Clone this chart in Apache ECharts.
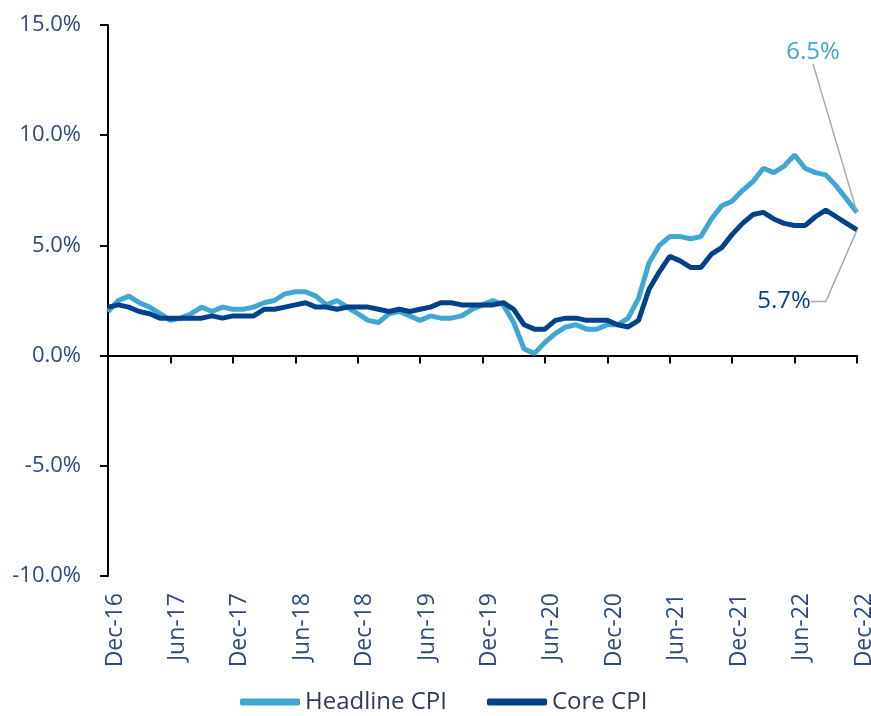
<!DOCTYPE html>
<html>
<head>
<meta charset="utf-8">
<script src="https://cdn.jsdelivr.net/npm/echarts@6/dist/echarts.min.js"></script>
<style>
  html, body { margin: 0; padding: 0; background: #fff; }
  #chart { width: 871px; height: 716px; }
</style>
</head>
<body>
<div id="chart"></div>
<script>
// months, Dec-16 .. Dec-22
const months = [
  "Dec-16",
  "Jan-17", "Feb-17", "Mar-17", "Apr-17", "May-17", "Jun-17", "Jul-17", "Aug-17", "Sep-17", "Oct-17", "Nov-17", "Dec-17",
  "Jan-18", "Feb-18", "Mar-18", "Apr-18", "May-18", "Jun-18", "Jul-18", "Aug-18", "Sep-18", "Oct-18", "Nov-18", "Dec-18",
  "Jan-19", "Feb-19", "Mar-19", "Apr-19", "May-19", "Jun-19", "Jul-19", "Aug-19", "Sep-19", "Oct-19", "Nov-19", "Dec-19",
  "Jan-20", "Feb-20", "Mar-20", "Apr-20", "May-20", "Jun-20", "Jul-20", "Aug-20", "Sep-20", "Oct-20", "Nov-20", "Dec-20",
  "Jan-21", "Feb-21", "Mar-21", "Apr-21", "May-21", "Jun-21", "Jul-21", "Aug-21", "Sep-21", "Oct-21", "Nov-21", "Dec-21",
  "Jan-22", "Feb-22", "Mar-22", "Apr-22", "May-22", "Jun-22", "Jul-22", "Aug-22", "Sep-22", "Oct-22", "Nov-22", "Dec-22"
];

// year-on-year, %
const headlineCpi = [
  2.0,
  2.5, 2.7, 2.4, 2.2, 1.9, 1.6, 1.7, 1.9, 2.2, 2.0, 2.2, 2.1,
  2.1, 2.2, 2.4, 2.5, 2.8, 2.9, 2.9, 2.7, 2.3, 2.5, 2.2, 1.9,
  1.6, 1.5, 1.9, 2.0, 1.8, 1.6, 1.8, 1.7, 1.7, 1.8, 2.1, 2.3,
  2.5, 2.3, 1.5, 0.3, 0.1, 0.6, 1.0, 1.3, 1.4, 1.2, 1.2, 1.4,
  1.4, 1.7, 2.6, 4.2, 5.0, 5.4, 5.4, 5.3, 5.4, 6.2, 6.8, 7.0,
  7.5, 7.9, 8.5, 8.3, 8.6, 9.1, 8.5, 8.3, 8.2, 7.7, 7.1, 6.5
];

const coreCpi = [
  2.2,
  2.3, 2.2, 2.0, 1.9, 1.7, 1.7, 1.7, 1.7, 1.7, 1.8, 1.7, 1.8,
  1.8, 1.8, 2.1, 2.1, 2.2, 2.3, 2.4, 2.2, 2.2, 2.1, 2.2, 2.2,
  2.2, 2.1, 2.0, 2.1, 2.0, 2.1, 2.2, 2.4, 2.4, 2.3, 2.3, 2.3,
  2.3, 2.4, 2.1, 1.4, 1.2, 1.2, 1.6, 1.7, 1.7, 1.6, 1.6, 1.6,
  1.4, 1.3, 1.6, 3.0, 3.8, 4.5, 4.3, 4.0, 4.0, 4.6, 4.9, 5.5,
  6.0, 6.4, 6.5, 6.2, 6.0, 5.9, 5.9, 6.3, 6.6, 6.3, 6.0, 5.7
];

const yTicks = { min: -10, max: 15, step: 5 };

const HEADLINE_COLOR = "#40a6d2";
const CORE_COLOR = "#03418a";
const TEXT_COLOR = "#2e4a7c";
const FONT = "'Open Sans', 'Noto Sans', sans-serif";

// only the last point carries a label
const withEndLabel = (values, labelOpts) =>
  values.map((v, i) =>
    i === values.length - 1 ? { value: v, label: { show: true, ...labelOpts } } : v
  );

const chart = echarts.init(document.getElementById("chart"), null, { renderer: "canvas" });

const option = {
  animation: false,
  textStyle: { fontFamily: FONT },
  grid: {
    left: 108,
    right: 14,
    top: 25,
    bottom: 140,
    containLabel: false,
    outerBoundsMode: "none", // keep the plot fixed, labels may touch the edge
  },
  legend: {
    top: 690,
    left: 240,
    padding: 0,
    icon: "roundRect",
    itemWidth: 60,
    itemHeight: 7,
    itemGap: 40,
    textStyle: { fontSize: 24, color: "#2f3b55", fontFamily: FONT },
    data: ["Headline CPI", "Core CPI"],
  },
  xAxis: [
    {
      // axis line sits on 0%
      type: "category",
      data: months,
      boundaryGap: false,
      position: "bottom",
      axisLine: { onZero: true, lineStyle: { color: "#000", width: 2 } },
      axisTick: { show: true, interval: 5, length: 8, lineStyle: { color: "#000", width: 2 } },
      axisLabel: { show: false },
      splitLine: { show: false },
    },
    {
      // labels along the bottom
      type: "category",
      data: months,
      boundaryGap: false,
      position: "bottom",
      axisLine: { show: false, onZero: false },
      axisTick: { show: false },
      axisLabel: {
        interval: 5,
        rotate: 90,
        margin: 17,
        fontSize: 23,
        color: TEXT_COLOR,
        fontFamily: FONT,
        verticalAlign: "top",
        lineHeight: 14,
      },
      splitLine: { show: false },
    },
  ],
  yAxis: {
    type: "value",
    min: yTicks.min,
    max: yTicks.max,
    interval: yTicks.step,
    axisLine: { show: true, lineStyle: { color: "#000", width: 2 } },
    axisTick: { show: true, length: 8, lineStyle: { color: "#000", width: 2 } },
    axisLabel: {
      margin: 27,
      fontSize: 22,
      color: TEXT_COLOR,
      fontFamily: FONT,
      formatter: (v) => v.toFixed(1) + "%",
    },
    splitLine: { show: false },
  },
  series: [
    {
      name: "Headline CPI",
      type: "line",
      xAxisIndex: 0,
      data: withEndLabel(headlineCpi, {
        position: "top",
        fontSize: 24,
        color: HEADLINE_COLOR,
        fontFamily: FONT,
        formatter: (p) => p.value.toFixed(1) + "%",
      }),
      symbol: "circle",
      symbolSize: 1,
      showSymbol: true,
      lineStyle: { color: HEADLINE_COLOR, width: 5 },
      itemStyle: { color: HEADLINE_COLOR },
      labelLayout: { dx: -44, dy: -143 },
      labelLine: { show: true, lineStyle: { color: "#a6a6a6", width: 1.5 } },
      emphasis: { disabled: true },
      z: 2,
    },
    {
      name: "Core CPI",
      type: "line",
      xAxisIndex: 0,
      data: withEndLabel(coreCpi, {
        position: "top",
        fontSize: 24,
        color: CORE_COLOR,
        fontFamily: FONT,
        formatter: (p) => p.value.toFixed(1) + "%",
      }),
      symbol: "circle",
      symbolSize: 1,
      showSymbol: true,
      lineStyle: { color: CORE_COLOR, width: 5 },
      itemStyle: { color: CORE_COLOR },
      labelLayout: { dx: -73, dy: 89 },
      labelLine: { show: true, length2: 15, lineStyle: { color: "#a6a6a6", width: 1.5 } },
      emphasis: { disabled: true },
      z: 3,
    },
  ],
};

chart.setOption(option);
</script>
</body>
</html>
